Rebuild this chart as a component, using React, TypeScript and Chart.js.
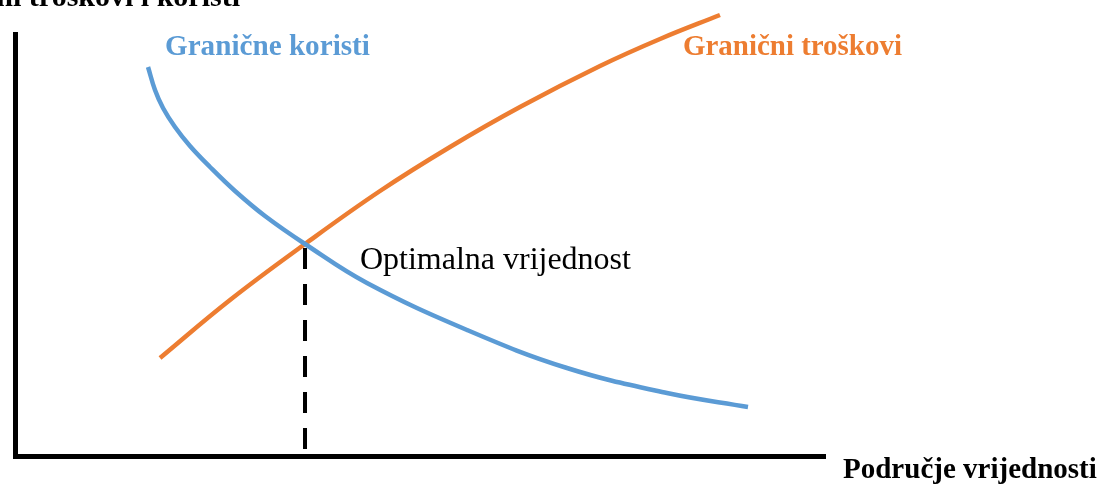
import React, { useEffect, useRef } from "react";
import { Chart, registerables } from "chart.js";
Chart.register(...registerables);

// Marginal benefits curve (domain units: x 0..10, y 0..10)
const benefitX = [1.63, 1.716, 1.815, 1.963, 2.148, 2.395, 2.704, 3.074, 3.568, 4.333, 5.568, 6.802, 8.037, 9.037];
const benefitY = [9.175, 8.632, 8.208, 7.759, 7.311, 6.816, 6.25, 5.66, 5.0, 4.08, 2.972, 2.075, 1.486, 1.156];
// Marginal costs curve
const costX = [1.778, 2.642, 3.568, 4.494, 5.358, 6.222, 7.21, 7.951, 8.691];
const costY = [2.311, 3.679, 5.0, 6.25, 7.288, 8.231, 9.198, 9.835, 10.401];
// Optimum (dashed drop line)
const optimumX = [3.568, 3.568];
const optimumY = [4.906, 0];

const benefitName = "Granične koristi";
const costName = "Granični troškovi";
const optimumLabel = "Optimalna vrijednost";
const xAxisTitle = "Područje vrijednosti";
const yAxisTitle = "Granični troškovi i koristi";

const BLUE = "#5B9BD5";
const ORANGE = "#ED7D31";
const SERIF = '"Liberation Serif", "Times New Roman", serif';

function fitFont(ctx: CanvasRenderingContext2D, text: string, width: number, weight: string) {
  ctx.font = `${weight} 100px ${SERIF}`;
  const w = ctx.measureText(text).width;
  const size = (100 * width) / w;
  return `${weight} ${size.toFixed(2)}px ${SERIF}`;
}

const decorPlugin = {
  id: "decor",
  beforeDatasetsDraw(chart: any) {
    const { ctx, chartArea } = chart;
    const { left, right, top, bottom } = chartArea;
    ctx.save();
    ctx.fillStyle = "#000";
    ctx.fillRect(left - 3, top, 5, bottom - top + 3);
    ctx.fillRect(left - 3, bottom - 2, right - left + 3, 5);
    ctx.restore();
  },
  afterDraw(chart: any) {
    const { ctx } = chart;
    ctx.save();
    ctx.textBaseline = "alphabetic";
    // y axis title (cut off at the top edge)
    ctx.fillStyle = "#000";
    ctx.textAlign = "right";
    ctx.font = `bold 30px ${SERIF}`;
    ctx.fillText(yAxisTitle, 240, 6);
    ctx.textAlign = "left";
    ctx.fillStyle = BLUE;
    ctx.font = fitFont(ctx, benefitName, 205, "bold");
    ctx.fillText(benefitName, 165, 55);
    ctx.fillStyle = ORANGE;
    ctx.font = fitFont(ctx, costName, 219, "bold");
    ctx.fillText(costName, 683, 55);
    ctx.fillStyle = "#000";
    ctx.font = fitFont(ctx, optimumLabel, 271, "normal");
    ctx.fillText(optimumLabel, 360, 269);
    ctx.font = fitFont(ctx, xAxisTitle, 254, "bold");
    ctx.fillText(xAxisTitle, 843, 478);
    ctx.restore();
  },
};

export default function App() {
  const ref = useRef<HTMLCanvasElement | null>(null);
  useEffect(() => {
    if (!ref.current) return;
    const chart = new Chart(ref.current, {
      type: "scatter",
      data: {
        datasets: [
          {
            label: "optimum",
            data: optimumX.map((x, i) => ({ x, y: optimumY[i] })),
            showLine: true,
            borderColor: "#000",
            borderWidth: 4,
            borderDash: [21, 15],
            pointRadius: 0,
            clip: false as any,
            order: 3,
          },
          {
            label: costName,
            data: costX.map((x, i) => ({ x, y: costY[i] })),
            showLine: true,
            borderColor: ORANGE,
            borderWidth: 4.5,
            tension: 0.4,
            pointRadius: 0,
            clip: false as any,
            order: 2,
          },
          {
            label: benefitName,
            data: benefitX.map((x, i) => ({ x, y: benefitY[i] })),
            showLine: true,
            borderColor: BLUE,
            borderWidth: 4.5,
            tension: 0.4,
            pointRadius: 0,
            clip: false as any,
            order: 1,
          },
        ],
      },
      options: {
        responsive: false,
        animation: false,
        layout: { padding: { left: 16, right: 273, top: 32, bottom: 30 } },
        plugins: { legend: { display: false }, tooltip: { enabled: false } },
        scales: {
          x: { type: "linear", min: 0, max: 10, display: false },
          y: { type: "linear", min: 0, max: 10, display: false },
        },
      },
      plugins: [decorPlugin],
    });
    return () => chart.destroy();
  }, []);
  return (
    <div style={{ position: "fixed", left: 0, top: 0, width: 1099, height: 486, background: "#fff" }}>
      <canvas ref={ref} width={1099} height={486} style={{ width: 1099, height: 486 }} />
    </div>
  );
}
